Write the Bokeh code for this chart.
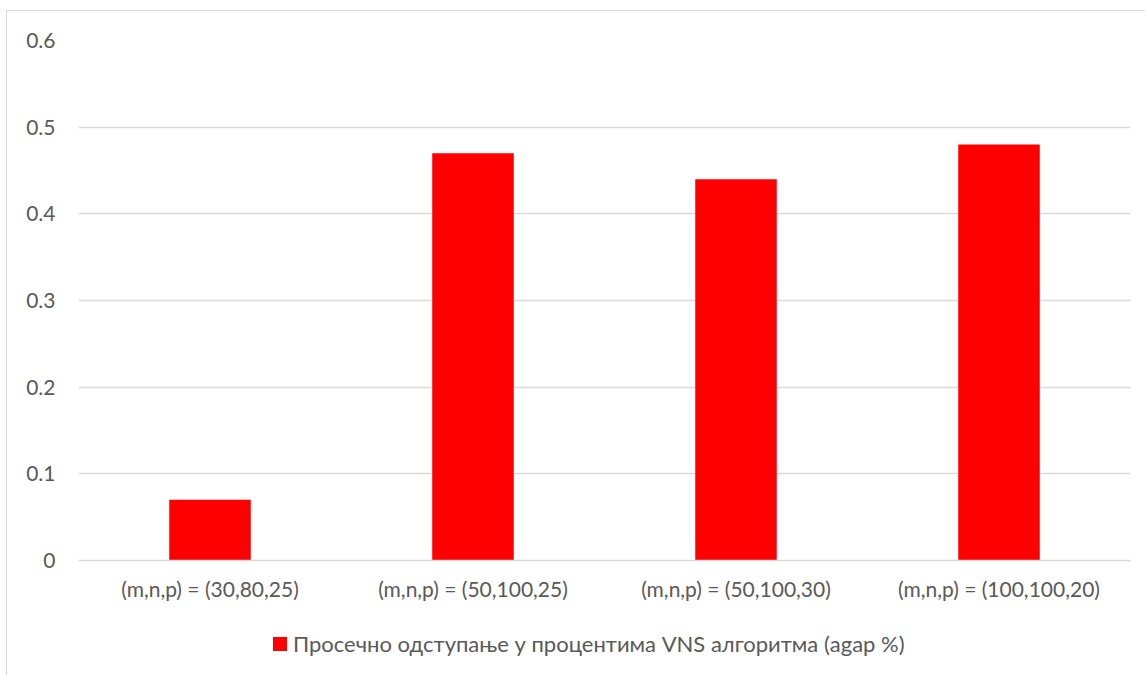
from bokeh.plotting import figure
from bokeh.models import FactorRange, Range1d, FixedTicker, ColumnDataSource, CustomJSTickFormatter, Div
from bokeh.layouts import column
from bokeh.embed import file_html
from bokeh.resources import INLINE

categories = ["(m,n,p) = (30,80,25)", "(m,n,p) = (50,100,25)", "(m,n,p) = (50,100,30)", "(m,n,p) = (100,100,20)"]
values = [0.07, 0.47, 0.44, 0.48]
y_ticks = [0, 0.1, 0.2, 0.3, 0.4, 0.5, 0.6]
series_name = "Просечно одступање у процентима VNS алгоритма (agap %)"

FONT = "Lato"
GREY = "#595959"
RED = "#ff0000"
FS = "21px"

p = figure(x_range=FactorRange(*categories), y_range=Range1d(0, 0.6),
           width=1138, height=609, output_backend="svg", toolbar_location=None,
           min_border_left=71, min_border_top=29, min_border_right=15, min_border_bottom=60)

src = ColumnDataSource(dict(x=categories, top=values))
r = p.vbar(x="x", top="top", width=0.31, source=src, fill_color=RED, line_color=None)

p.outline_line_color = None
p.xgrid.grid_line_color = None
p.ygrid.grid_line_color = "#d9d9d9"
p.ygrid.grid_line_width = 1.3
p.yaxis.ticker = FixedTicker(ticks=y_ticks)
p.yaxis.axis_line_color = None
p.yaxis.major_tick_line_color = None
p.yaxis.minor_tick_line_color = None
p.yaxis.major_label_standoff = 17
p.yaxis.major_label_text_font = FONT
p.yaxis.major_label_text_font_size = FS
p.yaxis.major_label_text_color = GREY
p.yaxis.formatter = CustomJSTickFormatter(code="return tick === 0 ? '0' : tick.toFixed(1);")

p.xaxis.axis_line_color = "#d9d9d9"
p.xaxis.axis_line_width = 1.3
p.xaxis.major_tick_line_color = None
p.xaxis.minor_tick_line_color = None
p.xaxis.major_label_standoff = 9
p.xaxis.major_label_text_font = FONT
p.xaxis.major_label_text_font_size = FS
p.xaxis.major_label_text_color = GREY

legend_html = (
    '<div style="position:relative;width:1138px;height:55px;font-family:Lato;">'
    f'<span style="position:absolute;left:266px;top:17px;width:14px;height:14px;background:{RED};"></span>'
    f'<span style="position:absolute;left:286px;top:11px;line-height:26px;font-size:22px;color:{GREY};white-space:nowrap;">{series_name}</span>'
    '</div>'
)
legend_div = Div(text=legend_html, width=1138, height=55, margin=0)

layout = column(p, legend_div, spacing=0,
                styles={"margin-left": "6px", "margin-top": "10px",
                        "border-top": "1px solid #d9d9d9", "border-left": "1px solid #d9d9d9"})

open("out.html", "w").write(file_html(layout, INLINE))
